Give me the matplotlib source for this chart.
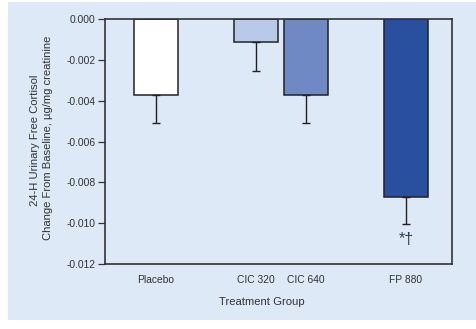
import matplotlib
matplotlib.use("Agg")
import matplotlib.pyplot as plt
import numpy as np

plt.rcParams['font.family'] = ['Liberation Sans', 'DejaVu Sans']

# change from baseline and lower SEM bar for each group
groups = ['Placebo', 'CIC 320', 'CIC 640', 'FP 880']
positions = [0, 2, 3, 5]
means = [-0.0037, -0.00114, -0.0037, -0.00872]
sem = [0.0014, 0.0014, 0.0014, 0.00133]
colors = ['#ffffff', '#b8c9e9', '#6e89c3', '#29509f']
ticks = [0.0, -0.002, -0.004, -0.006, -0.008, -0.010, -0.012]

bg = '#dde9f6'
ink = '#333333'

fig = plt.figure(figsize=(4.76, 3.29), dpi=100)
fig.patch.set_facecolor('white')
# light blue panel behind the plot
fig.patches.append(plt.Rectangle((8 / 476, 1 - 320 / 329), 1 - 8 / 476, 318 / 329,
                                 transform=fig.transFigure, facecolor=bg,
                                 edgecolor='none', zorder=-1))

ax = fig.add_axes([105 / 476, 1 - 264 / 329, (452 - 105) / 476, (264 - 19) / 329])
ax.set_facecolor(bg)

ax.bar(positions, means, width=0.88, color=colors, edgecolor='#222222',
       linewidth=1.1, zorder=2)
ax.errorbar(positions, means, yerr=[sem, [0] * len(sem)], fmt='none',
            ecolor='#222222', elinewidth=1.0, capsize=3, capthick=1.0, zorder=3)

ax.text(positions[3], means[3] - sem[3] - 0.00075, '*\u2020', ha='center',
        va='center', fontsize=11.5, color='#333a55')

ax.set_xlim(-1.02, 5.92)
ax.set_ylim(-0.012, 0.0)
ax.set_yticks(ticks)
ax.set_yticklabels(['%.3f' % t for t in ticks])
ax.set_xticks(positions)
ax.set_xticklabels(groups)

ax.tick_params(axis='y', direction='out', length=5, width=0.9, color=ink,
               labelsize=7.4, labelcolor=ink, pad=2)
ax.tick_params(axis='x', length=0, labelsize=7.4, labelcolor=ink, pad=8)

for s in ax.spines.values():
    s.set_color(ink)
    s.set_linewidth(1.2)

fig.text(262 / 476, 1 - 302 / 329, 'Treatment Group', ha='center', va='center',
         fontsize=8.1, color=ink)
fig.text(35 / 476, 1 - 140 / 329, '24-H Urinary Free Cortisol', rotation=90,
         ha='center', va='center', fontsize=8.1, color=ink)
fig.text(48 / 476, 1 - 138 / 329, 'Change From Baseline, \u00b5g/mg creatinine',
         rotation=90, ha='center', va='center', fontsize=8.1, color=ink)

fig.savefig('out.png', dpi=100, facecolor=fig.get_facecolor())
